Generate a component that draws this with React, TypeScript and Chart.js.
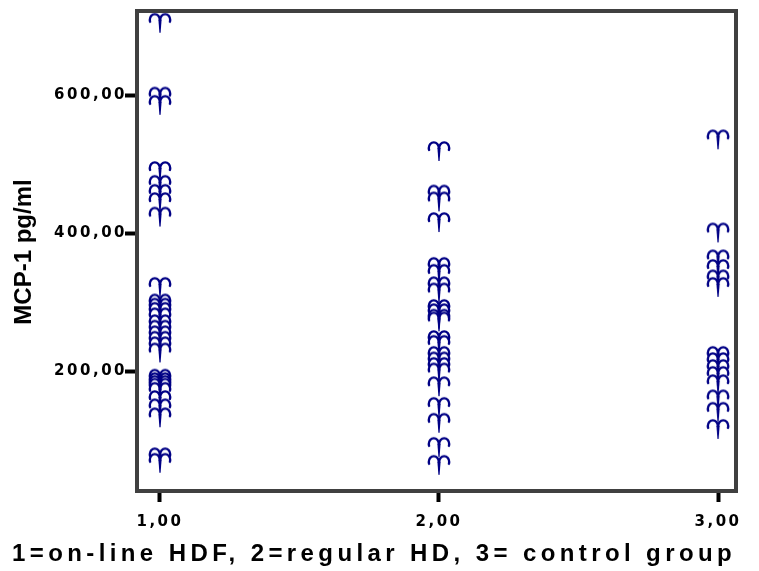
import React, { useEffect, useRef } from "react";
import { Chart, registerables } from "chart.js";

Chart.register(...registerables);

const groups = [1, 2, 3];
const xTickValues = [1, 2, 3];
const yTickValues = [200, 400, 600];

const group1Values = [
  705, 598, 586, 490, 470, 457, 445, 424, 322, 298, 292, 286, 278, 268, 260,
  252, 244, 236, 227, 189, 184, 180, 176, 170, 158, 146, 133, 75, 67,
];
const group2Values = [
  519, 456, 446, 416, 351, 341, 323, 314, 290, 284, 276, 272, 245, 238, 222,
  214, 206, 198, 178, 148, 125, 90, 64,
];
const group3Values = [
  536, 401, 362, 348, 333, 322, 222, 213, 203, 193, 181, 159, 141, 116,
];

const xTitle = "1=on-line HDF, 2=regular HD, 3= control group";
const yTitle = "MCP-1 pg/ml";

const fmt = (v: number) => v.toFixed(2).replace(".", ",");

function makeGlyph(): HTMLCanvasElement {
  const c = document.createElement("canvas");
  c.width = 26;
  c.height = 22;
  const g = c.getContext("2d")!;
  g.strokeStyle = "#000085";
  g.fillStyle = "#000085";
  g.lineWidth = 2.4;
  g.lineCap = "round";
  const cx = 13;
  const cy = 8;
  g.beginPath();
  g.ellipse(cx - 5.2, cy, 5, 5.6, 0, 0, -Math.PI - 0.35, true);
  g.stroke();
  g.beginPath();
  g.ellipse(cx + 5.2, cy, 5, 5.6, 0, Math.PI, 2 * Math.PI + 0.35, false);
  g.stroke();
  // tapered stem
  g.beginPath();
  g.moveTo(cx - 1.6, cy);
  g.lineTo(cx + 1.6, cy);
  g.lineTo(cx + 0.6, 21);
  g.lineTo(cx - 0.6, 21);
  g.closePath();
  g.fill();
  return c;
}

export default function App() {
  const ref = useRef<HTMLCanvasElement | null>(null);

  useEffect(() => {
    if (!ref.current) return;
    const glyph = makeGlyph();
    const seriesValues = [group1Values, group2Values, group3Values];
    const datasets = groups.map((g, i) => ({
      label: "Group " + g,
      data: seriesValues[i].map((v) => ({ x: g, y: v })),
      pointStyle: glyph as any,
      pointRadius: 10,
      backgroundColor: "#000080",
      borderColor: "#000080",
    }));

    const framePlugin = {
      id: "frameAndTitles",
      beforeDraw(chart: any) {
        chart.ctx.letterSpacing = "2.5px";
      },
      afterDraw(chart: any) {
        const { ctx, chartArea } = chart;
        ctx.save();
        ctx.strokeStyle = "#404040";
        ctx.lineWidth = 4;
        ctx.strokeRect(
          chartArea.left,
          chartArea.top,
          chartArea.right - chartArea.left,
          chartArea.bottom - chartArea.top
        );
        ctx.fillStyle = "#000";
        ctx.font = 'bold 24px "Liberation Sans", Arial, sans-serif';
        ctx.letterSpacing = "4.4px";
        ctx.textAlign = "left";
        ctx.textBaseline = "alphabetic";
        ctx.fillText(xTitle, 12, 561);
        ctx.letterSpacing = "0px";
        ctx.translate(31, 252);
        ctx.rotate(-Math.PI / 2);
        ctx.textAlign = "center";
        ctx.fillText(yTitle, 0, 0);
        ctx.restore();
      },
    };

    const tickFont = { family: '"DejaVu Sans", sans-serif', size: 15, weight: "bold" as const };

    const chart = new Chart(ref.current, {
      type: "scatter",
      data: { datasets },
      options: {
        animation: false,
        responsive: false,
        layout: { padding: { top: 11, right: 23, left: 0, bottom: 0 } },
        plugins: { legend: { display: false }, tooltip: { enabled: false } },
        scales: {
          x: {
            type: "linear",
            min: 0.9176,
            max: 3.0645,
            afterBuildTicks: (s: any) => {
              s.ticks = xTickValues.map((v) => ({ value: v }));
            },
            afterFit: (s: any) => {
              s.height = 80;
            },
            ticks: {
              callback: (v: any) => fmt(Number(v)),
              font: tickFont,
              color: "#000",
              padding: 11,
              maxRotation: 0,
            },
            grid: {
              display: true,
              drawOnChartArea: false,
              drawTicks: true,
              tickLength: 11,
              tickWidth: 4,
              tickColor: "#000",
            },
            border: { display: false },
          },
          y: {
            type: "linear",
            min: 26,
            max: 722,
            afterBuildTicks: (s: any) => {
              s.ticks = yTickValues.map((v) => ({ value: v }));
            },
            afterFit: (s: any) => {
              s.width = 137;
            },
            ticks: {
              callback: (v: any) => fmt(Number(v)),
              font: tickFont,
              color: "#000",
              padding: -2,
            },
            grid: {
              display: true,
              drawOnChartArea: false,
              drawTicks: true,
              tickLength: 12,
              tickWidth: 4,
              tickColor: "#000",
            },
            border: { display: false },
          },
        },
      },
      plugins: [framePlugin],
    });
    return () => chart.destroy();
  }, []);

  return (
    <div style={{ position: "absolute", left: 0, top: 0, width: 759, height: 571, background: "#fff" }}>
      <canvas ref={ref} width={759} height={571} style={{ width: 759, height: 571 }} />
    </div>
  );
}
